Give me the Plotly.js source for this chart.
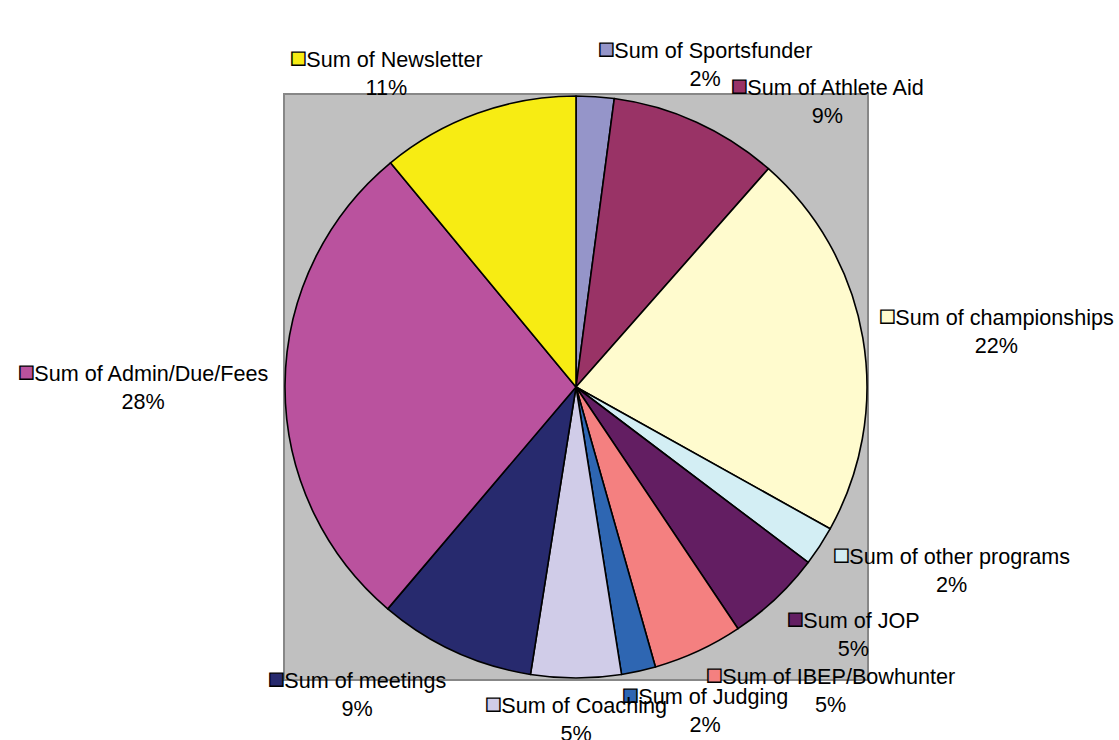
<!DOCTYPE html>
<html>
<head>
<meta charset="utf-8">
<script src="https://cdn.plot.ly/plotly-3.0.1.min.js"></script>
<style>
  html, body { margin: 0; padding: 0; background: #ffffff; }
  #chart { width: 1119px; height: 740px; }
</style>
</head>
<body>
<div id="chart"></div>
<script>
const categories = [
  'Sum of Sportsfunder',
  'Sum of Athlete Aid',
  'Sum of championships',
  'Sum of other programs',
  'Sum of JOP',
  'Sum of IBEP/Bowhunter',
  'Sum of Judging',
  'Sum of Coaching',
  'Sum of meetings',
  'Sum of Admin/Due/Fees',
  'Sum of Newsletter'
];
const values = [2.1, 9.4, 21.6, 2.2, 5.3, 5.0, 1.9, 5.0, 8.7, 27.8, 11.0];
const colors = [
  '#9595C9', '#993366', '#FFFBCE', '#D3EEF4', '#631E62', '#F48080',
  '#2E66B2', '#D0CCE8', '#272A6E', '#BA529E', '#F7EC13'
];

// label placement nudges in pixels (style only), same order as categories
const labelNudgeX = [0, 27, 0, 0, 0, 0, -22, 0, 0, 0, 12];
const labelNudgeY = [10, 21, -6, -16, -7, -6, -7, -5, -2, 0, 2];

const W = 1119, H = 740;
const cx = 576, cy = 387, r = 291;
const labelR = r + 14;

const total = values.reduce((a, b) => a + b, 0);
const annotations = [];
let cum = 0;
values.forEach((v, i) => {
  const mid = (cum + v / 2) / total * 2 * Math.PI;
  cum += v;
  const s = Math.sin(mid), c = Math.cos(mid);
  const px = cx + labelR * s + labelNudgeX[i];
  const py = cy - labelR * c + labelNudgeY[i];
  let xanchor = 'center';
  if (s > 0.03) xanchor = 'left';
  else if (s < -0.03) xanchor = 'right';
  let yanchor = 'middle';
  if (c > 0.3) yanchor = 'bottom';
  else if (c < -0.3) yanchor = 'top';
  const pct = Math.round(v / total * 100) + '%';
  annotations.push({
    xref: 'paper', yref: 'paper',
    x: px / W, y: 1 - py / H,
    xanchor: xanchor, yanchor: yanchor,
    showarrow: false,
    align: 'center',
    text: '<span style="font-size:27px;color:' + colors[i] + ';stroke:#000000;stroke-width:1.4px">■</span>' +
          categories[i] + '<br>' + pct,
    font: { family: 'Liberation Sans, Arial, sans-serif', size: 21.6, color: '#000000' }
  });
});

const trace = {
  type: 'pie',
  labels: categories,
  values: values,
  sort: false,
  direction: 'clockwise',
  rotation: 0,
  textinfo: 'none',
  hoverinfo: 'label+percent',
  marker: { colors: colors, line: { color: '#000000', width: 1.6 } },
  domain: {
    x: [(cx - r) / W, (cx + r) / W],
    y: [1 - (cy + r) / H, 1 - (cy - r) / H]
  }
};

const layout = {
  width: W, height: H,
  margin: { l: 0, r: 0, t: 0, b: 0 },
  paper_bgcolor: '#ffffff',
  showlegend: false,
  shapes: [{
    type: 'rect', xref: 'paper', yref: 'paper', layer: 'below',
    x0: 284 / W, x1: 868 / W, y0: 1 - 680 / H, y1: 1 - 94 / H,
    fillcolor: '#C0C0C0', line: { color: '#878787', width: 2 }
  }],
  annotations: annotations
};

Plotly.newPlot('chart', [trace], layout, { displayModeBar: false, staticPlot: true });
</script>
</body>
</html>
